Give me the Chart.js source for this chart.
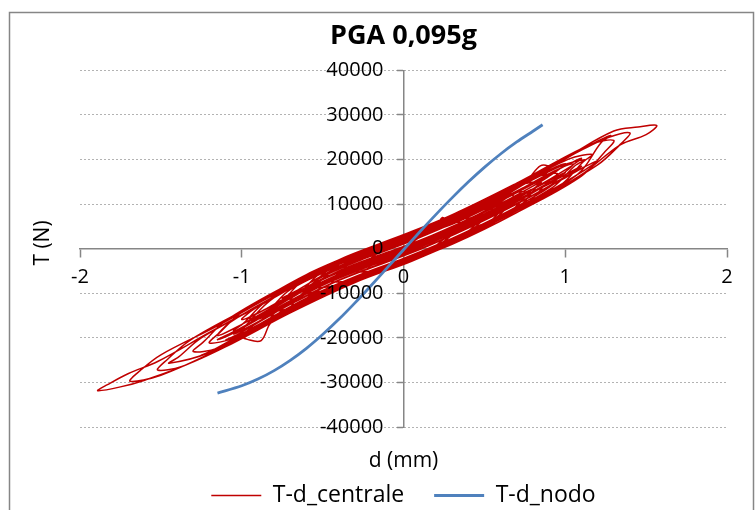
<!DOCTYPE html>
<html>
<head>
<meta charset="utf-8">
<script src="https://cdn.jsdelivr.net/npm/chart.js@4.4.1/dist/chart.umd.min.js"></script>
<style>
  html, body { margin: 0; padding: 0; overflow: hidden; background: #fff; }
  canvas { display: block; }
</style>
</head>
<body>
<canvas id="hysteresisChart" width="755" height="525"></canvas>
<script>
// series names
const seriesNames = ['T-d_centrale', 'T-d_nodo'];

const centrale = [
    [0, -200], [0.1, 2600], [0.27, 5800], [0.42, 6790],
    [0.36, 5020], [0.22, 900], [0, -2500], [-0.2, -5200], [-0.4, -8000], [-0.55, -8650],
    [-0.49, -6490], [-0.35, -2300], [-0.05, 2050], [0.25, 6400], [0.53, 10900], [0.68, 11860],
    [0.62, 9220], [0.48, 4500], [0.2, -200], [-0.1, -4400], [-0.4, -8700], [-0.65, -12700], [-0.8, -13940],
    [-0.74, -11500], [-0.6, -6500], [-0.3, -1500], [0, 2600], [0.3, 7100], [0.55, 11400], [0.8, 15800], [0.95, 16900],
    [0.89, 14900], [0.75, 9800], [0.45, 4250], [0.1, -1400], [-0.25, -6200], [-0.6, -11700], [-0.9, -17300], [-1.05, -18450],
    [-0.99, -16760], [-0.85, -11800], [-0.5, -4600], [-0.15, 500], [0.2, 5400], [0.55, 11300], [1.02, 20100], [1.17, 21160],
    [1.11, 19460], [0.97, 14200], [0.65, 7750], [0.3, 1600], [-0.05, -3550], [-0.4, -8500], [-0.8, -15800], [-1.15, -22300], [-1.3, -23060],
    [-1.24, -21020], [-1.1, -16200], [-0.75, -8800], [-0.4, -2500], [-0.05, 2450], [0.3, 7600], [0.7, 14700], [1.15, 23300], [1.3, 24290],
    [1.24, 21540], [1.1, 16300], [0.75, 9050], [0.4, 2700], [0.05, -2800], [-0.3, -7600], [-0.7, -14400], [-1.05, -21100], [-1.37, -26390], [-1.52, -27210],
    [-1.46, -24860], [-1.32, -20540], [-1.0, -14000], [-0.6, -5800], [-0.2, 400], [0.2, 6000], [0.6, 12800], [1.0, 20400], [1.3, 26400], [1.45, 27300], [1.566, 27650],
    [1.5, 25600], [1.34, 23300], [1.1, 16600], [0.7, 8100], [0.3, 1000], [-0.1, -4500], [-0.5, -10400], [-0.9, -18000], [-1.3, -25400], [-1.6, -29500], [-1.75, -31000], [-1.89, -31850],
    [-1.83, -30500], [-1.7, -28000], [-1.52, -25300], [-1.2, -18800], [-0.85, -11800], [-0.45, -3500], [-0.05, 2300], [0.35, 8200], [0.75, 15300], [1.1, 22100], [1.27, 25000], [1.4, 25960],
    [1.34, 23400], [1.2, 18800], [0.85, 11400], [0.45, 3900], [0.05, -2600], [-0.35, -8100], [-0.75, -15000], [-1.15, -22700], [-1.5, -28400], [-1.69, -29720],
    [-1.63, -27420], [-1.5, -23800], [-1.15, -17300], [-0.8, -10300], [-0.4, -2900], [0, 2700], [0.4, 8800], [0.8, 16000], [1.13, 22800], [1.28, 25400],
    [1.22, 23700], [1.08, 16800], [0.75, 9900], [0.35, 2700], [-0.05, -3300], [-0.45, -9000], [-0.85, -16500], [-1.2, -23300], [-1.45, -25700],
    [-1.39, -24270], [-1.25, -20000], [-0.9, -13000], [-0.5, -5100], [-0.1, 700], [0.3, 6500], [0.7, 13600], [0.97, 18500], [1.12, 19940],
    [1.06, 18600], [0.92, 13700], [0.6, 7300], [0.2, 500], [-0.2, -5100], [-0.6, -11300], [-1.05, -20000], [-1.2, -21140],
    [-1.14, -18940], [-1.0, -14300], [-0.6, -6200], [-0.2, 100], [0.2, 5700], [0.55, 11500], [0.76, 15400], [0.846, 18600], [0.9, 18300],
    [0.84, 14800], [0.7, 9000], [0.35, 2500], [0, -3000], [-0.35, -7900], [-0.7, -13900], [-0.82, -16600], [-0.88, -20600], [-0.96, -20400], [-1.01, -19300],
    [-0.95, -16200], [-0.8, -11000], [-0.45, -4300], [-0.1, 800], [0.2, 4900], [0.24, 7000], [0.29, 6000], [0.6, 11600], [0.75, 12830],
    [0.69, 11090], [0.55, 6400], [0.2, 500], [-0.15, -4400], [-0.5, -9500], [-0.7, -11380],
    [-0.64, -9800], [-0.5, -5200], [-0.15, -100], [0.2, 4800], [0.4, 8100], [0.55, 8850],
    [0.49, 6930], [0.35, 2550], [0, -2800], [-0.3, -6900], [-0.45, -7300],
    [-0.39, -5190], [-0.25, -900], [0.1, 3900], [0.45, 9550], [0.7, 14100], [0.85, 14940],
    [0.79, 13050], [0.65, 8150], [0.3, 2000], [-0.05, -3150], [-0.4, -8100], [-0.75, -14400], [-0.9, -15340],
    [-0.84, -14080], [-0.7, -9200], [-0.35, -3150], [0, 1700], [0.3, 6200], [0.45, 8750], [0.6, 9480],
    [0.54, 8120], [0.4, 3700], [0.05, -1800], [-0.3, -6600], [-0.47, -9150], [-0.62, -9930],
    [-0.56, -7800], [-0.42, -3600], [-0.1, 1000], [0.2, 5200], [0.35, 5870],
    [0.29, 3560], [0.15, -550], [-0.15, -4700], [-0.3, -5020],
    [-0.24, -3200], [-0.1, 300], [0.1, 2500],
    [0.25, 5400], [0.5, 9600], [0.65, 11860],
    [0.57, 9810], [0.35, 5650], [0.05, 1000], [-0.25, -3100], [-0.5, -6800], [-0.63, -9200], [-0.75, -11110],
    [-0.67, -9600], [-0.45, -5050], [-0.15, -700], [0.15, 3450], [0.45, 8350], [0.75, 13850], [0.93, 17400], [1.05, 19010],
    [0.97, 16400], [0.7, 10500], [0.4, 5100], [0.1, 300], [-0.2, -3800], [-0.5, -8200], [-0.83, -14600], [-0.95, -16160],
    [-0.87, -15450], [-0.6, -9700], [-0.3, -4900], [0, -800], [0.3, 3700], [0.6, 8900], [0.83, 13300], [0.95, 15210],
    [0.87, 13050], [0.6, 7500], [0.3, 2300], [0, -2200], [-0.3, -6300], [-0.6, -11100], [-0.98, -18700], [-1.1, -20510],
    [-1.02, -19130], [-0.8, -14500], [-0.5, -8700], [-0.2, -4300], [0.1, -200], [0.4, 4600], [0.7, 10000], [1.0, 15900], [1.08, 17600], [1.2, 19650],
    [1.12, 17650], [0.9, 12900], [0.6, 7100], [0.3, 1900], [0, -2600], [-0.3, -6700], [-0.6, -11500], [-0.9, -17500], [-1.13, -22000], [-1.25, -23900],
    [-1.17, -22600], [-0.9, -17100], [-0.6, -11100], [-0.3, -6300], [0, -2200], [0.3, 2300], [0.48, 5360], [0.6, 7220],
    [0.52, 5460], [0.3, 1500], [0, -3000], [-0.3, -7100], [-0.58, -11540], [-0.7, -13620],
    [-0.62, -9880], [-0.4, -5900], [-0.1, -1600], [0.2, 2600], [0.43, 6410], [0.55, 8080],
    [0.47, 6190], [0.2, 1400], [-0.1, -2800], [-0.4, -7100], [-0.73, -13000], [-0.85, -14980],
    [-0.77, -12300], [-0.5, -6900], [-0.2, -2500], [0.1, 1600], [0.4, 6400], [0.68, 11420], [0.8, 13420],
    [0.72, 11580], [0.45, 6450], [0.15, 1550], [-0.15, -2600], [-0.48, -7340], [-0.6, -9220],
    [-0.52, -6660], [-0.25, -2300], [0.05, 1800], [0.35, 6450], [0.65, 11750], [0.98, 18200], [1.1, 20280],
    [1.02, 18120], [0.8, 13400], [0.5, 7800], [0.2, 2800], [-0.1, -1400], [-0.4, -5700], [-0.7, -11000], [-1.03, -17570], [-1.15, -19480],
    [-1.07, -16480], [-0.8, -10700], [-0.5, -4900], [-0.2, -500], [0.1, 3600], [0.4, 8400], [0.7, 13800], [0.88, 17300], [1.0, 19070],
    [0.92, 16750], [0.7, 12000], [0.4, 6600], [0.1, 1800], [-0.2, -2300], [-0.5, -6700], [-0.88, -14100], [-1.0, -15870],
    [-0.92, -13450], [-0.6, -6800], [-0.3, -2000], [0, 2100], [0.33, 7110], [0.45, 8800],
    [0.37, 7040], [0.1, 2500], [-0.23, -2050], [-0.35, -3400],
    [-0.27, -1480], [0, 2400], [0.3, 6900], [0.63, 12670], [0.75, 14670],
    [0.67, 12830], [0.4, 7800], [0.1, 3000], [-0.2, -1100], [-0.38, -3700], [-0.5, -5220],
    [-0.44, -4000], [-0.2, -300], [0, 2000], [0.3, 5500], [0.6, 10700], [0.78, 14120], [0.9, 16290],
    [0.82, 14450], [0.55, 9200], [0.25, 4100], [-0.05, -250], [-0.35, -4450], [-0.65, -9500], [-0.85, -13500], [-0.97, -15690],
    [-0.89, -15050], [-0.6, -9100], [-0.3, -4300], [0, -200], [0.3, 4300], [0.6, 9500], [0.88, 14900], [1.0, 17090],
    [0.92, 15250], [0.65, 9850], [0.35, 4550], [0.05, -100], [-0.25, -4200], [-0.55, -8800], [-0.85, -14700], [-1.03, -18270], [-1.15, -20390],
    [-1.07, -19280], [-0.8, -13800], [-0.5, -8000], [-0.2, -3600], [0.1, 500], [0.4, 5300], [0.7, 10700], [0.98, 16200], [1.1, 18490],
    [1.02, 16570], [0.75, 11050], [0.45, 5550], [0.15, 650], [-0.15, -3500], [-0.45, -7850], [-0.75, -13400], [-0.95, -17400], [-1.05, -19140],
    [-0.98, -17500], [-0.7, -11000], [-0.4, -5000], [-0.1, -800], [0.1, 1800]
];

// T-d_nodo: [d (mm), T (N)]
const nodo = [
    [-1.15, -32400], [-1.0, -30750], [-0.9, -29250], [-0.8, -27350], [-0.7, -25050],
    [-0.6, -22350], [-0.5, -19250], [-0.4, -15850], [-0.3, -12150], [-0.2, -8250],
    [-0.1, -4250], [0, -250], [0.1, 3750], [0.2, 7650], [0.3, 11400], [0.4, 14950],
    [0.5, 18250], [0.6, 21250], [0.7, 23950], [0.8, 26350], [0.86, 27800]
];

// axis ranges
const dRange = [-2, 2];
const tRange = [-40000, 40000];

const toPoints = (pairs) => pairs.map(p => ({ x: p[0], y: p[1] }));

// white page, outer frame and the two axis titles
const frameAndTitles = {
    id: 'frameAndTitles',
    beforeDraw(chart) {
        const ctx = chart.ctx;
        ctx.save();
        ctx.fillStyle = '#ffffff';
        ctx.fillRect(0, 0, chart.width, chart.height);
        ctx.strokeStyle = '#868686';
        ctx.lineWidth = 1.5;
        ctx.strokeRect(9.5, 12.5, 744, chart.height);
        ctx.restore();
    },
    afterDraw(chart) {
        const ctx = chart.ctx;
        const area = chart.chartArea;
        ctx.save();
        ctx.fillStyle = '#000000';
        ctx.font = "21px 'Open Sans'";
        ctx.textAlign = 'center';
        ctx.textBaseline = 'middle';
        ctx.fillText('d (mm)', (area.left + area.right) / 2, 461);
        ctx.translate(43, 243);
        ctx.rotate(-Math.PI / 2);
        ctx.fillText('T (N)', 0, 0);
        ctx.restore();
    }
};

Chart.defaults.font.family = "'Open Sans'";
Chart.defaults.color = '#000000';

new Chart(document.getElementById('hysteresisChart'), {
    type: 'scatter',
    data: {
        datasets: [{
            label: seriesNames[0],
            data: toPoints(centrale),
            showLine: true,
            borderColor: '#C00000',
            backgroundColor: '#C00000',
            borderWidth: 1.5,
            pointRadius: 0,
            tension: 0.35,
            order: 1
        }, {
            label: seriesNames[1],
            data: toPoints(nodo),
            showLine: true,
            borderColor: '#4F81BD',
            backgroundColor: '#4F81BD',
            borderWidth: 2.8,
            pointRadius: 0,
            tension: 0.3,
            order: 0
        }]
    },
    options: {
        responsive: false,
        devicePixelRatio: 1,
        animation: false,
        events: [],
        layout: { padding: { left: 80, right: 28, top: 0, bottom: 8 } },
        plugins: {
            title: {
                display: true,
                text: 'PGA 0,095g',
                font: { size: 27, weight: 'bold' },
                padding: { top: 20, bottom: 18 }
            },
            legend: {
                position: 'bottom',
                // empty title only keeps the legend row clear of "d (mm)"
                title: { display: true, text: ' ', font: { size: 20 }, padding: { top: 0, bottom: 3 } },
                labels: {
                    usePointStyle: true,
                    pointStyle: 'line',
                    pointStyleWidth: 50,
                    padding: 30,
                    font: { size: 23 },
                    sort: (a, b) => a.datasetIndex - b.datasetIndex
                }
            },
            tooltip: { enabled: false }
        },
        scales: {
            x: {
                type: 'linear',
                position: { y: 0 },
                min: dRange[0],
                max: dRange[1],
                ticks: { stepSize: 1, font: { size: 20 }, padding: 9, z: 1 },
                grid: { drawOnChartArea: false, tickLength: 8, tickColor: '#868686', tickWidth: 1.5 },
                border: { color: '#868686', width: 1.5 }
            },
            y: {
                type: 'linear',
                position: { x: 0 },
                min: tRange[0],
                max: tRange[1],
                ticks: {
                    stepSize: 10000,
                    font: { size: 20 },
                    z: 1,
                    // centre-positioned axis ignores ticks.padding, so keep the gap with spaces
                    callback: (value) => String(value) + '\u2002\u2002'
                },
                grid: {
                    color: (c) => (c.tick && c.tick.value === 0) ? 'rgba(0,0,0,0)' : '#b3b3b3',
                    lineWidth: 1,
                    tickLength: 6,
                    tickColor: '#868686',
                    tickWidth: 1.5
                },
                border: { color: '#868686', width: 1.5, dash: [2, 2] }
            }
        }
    },
    plugins: [frameAndTitles]
});
</script>
</body>
</html>
